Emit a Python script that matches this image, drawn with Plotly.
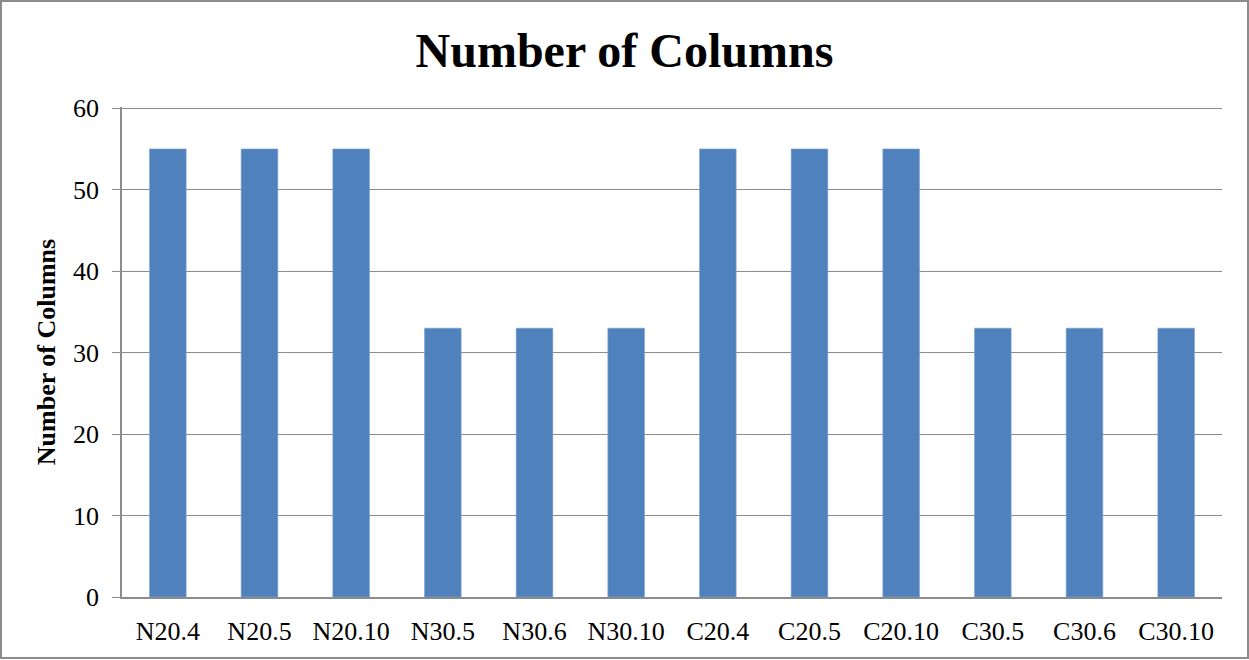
import plotly.graph_objects as go

categories = ["N20.4", "N20.5", "N20.10", "N30.5", "N30.6", "N30.10",
              "C20.4", "C20.5", "C20.10", "C30.5", "C30.6", "C30.10"]
values = [55, 55, 55, 33, 33, 33, 55, 55, 55, 33, 33, 33]
y_ticks = [0, 10, 20, 30, 40, 50, 60]

FONT = "Liberation Serif, Times New Roman, serif"
GRID = "#8c8c8c"

fig = go.Figure(go.Bar(
    x=categories, y=values,
    marker=dict(color="#4F81BD", line=dict(color="#7fa3d3", width=0.6)),
    width=0.4,
))

L, R, T, B = 122, 27, 107, 63
W, H = 1249, 660
pw, ph = W - L - R, H - T - B

def px(x):
    return (x - L) / pw

def py(y):
    return (H - B - y) / ph

fig.update_layout(
    width=W, height=H,
    margin=dict(l=L, r=R, t=T, b=B, pad=0),
    paper_bgcolor="white", plot_bgcolor="white",
    showlegend=False,
    title=dict(text="<b>Number of Columns</b>", x=0.5, xanchor="center",
               y=1 - 50 / H, yanchor="middle",
               font=dict(family=FONT, size=48, color="black")),
    font=dict(family=FONT, color="black"),
    xaxis=dict(
        showgrid=False, showline=True, linecolor=GRID, linewidth=1.5,
        ticks="", tickfont=dict(family=FONT, size=26, color="black"),
        ticklabelstandoff=10,
    ),
    yaxis=dict(
        range=[0, 60.15], tickvals=y_ticks, showgrid=True, gridcolor=GRID, gridwidth=1.2,
        showline=True, linecolor=GRID, linewidth=1.5, zeroline=False,
        ticks="outside", ticklen=8, tickcolor=GRID, tickwidth=1.2,
        tickfont=dict(family=FONT, size=26, color="black"),
        ticklabelstandoff=8,
        title=dict(text="<b>Number of Columns</b>", standoff=10,
                   font=dict(family=FONT, size=26, color="black")),
    ),
    shapes=[dict(type="rect", xref="paper", yref="paper",
                 x0=px(1), x1=px(1248), y0=py(1), y1=py(658),
                 line=dict(color="#8c8c8c", width=2), fillcolor="rgba(0,0,0,0)",
                 layer="above")],
)

fig.write_html("out.html")
